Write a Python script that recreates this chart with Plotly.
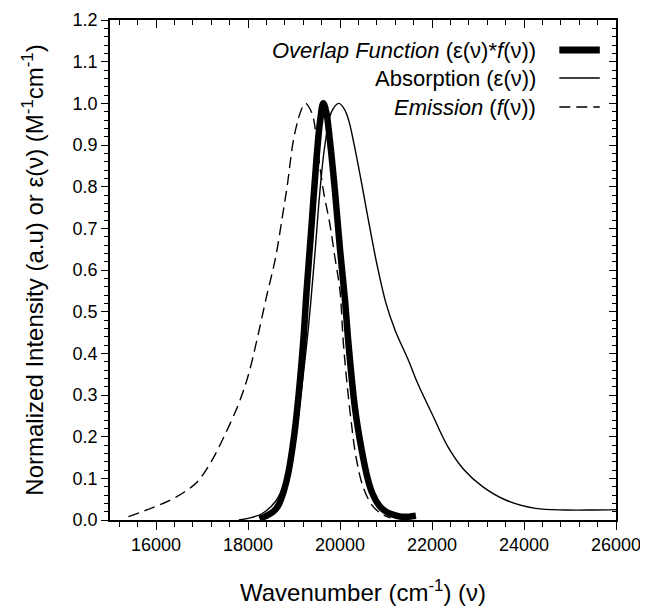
import plotly.graph_objects as go

# ---- data ----
emission_x = [15400, 15700, 16000, 16300, 16600, 16900, 17200, 17500, 17800, 18000,
              18200, 18400, 18600, 18750, 18850, 18985, 19100, 19180, 19250, 19330,
              19420, 19530, 19640, 19780, 19890, 20000, 20070, 20150, 20250, 20350,
              20500, 20700, 20900, 21100]
emission_y = [0.008, 0.02, 0.033, 0.047, 0.066, 0.092, 0.14, 0.205, 0.28, 0.345,
              0.435, 0.535, 0.63, 0.73, 0.80, 0.91, 0.965, 0.99, 1.0, 0.99,
              0.965, 0.875, 0.79, 0.71, 0.63, 0.55, 0.43, 0.33, 0.23, 0.15,
              0.08, 0.035, 0.015, 0.005]

absorption_x = [17800, 18000, 18300, 18600, 18800, 19000, 19150, 19311, 19455, 19564,
                19672, 19817, 19976, 20100, 20200, 20300, 20450, 20600, 20800, 21000,
                21200, 21480, 21700, 22000, 22350, 22700, 23100, 23600, 24250, 24900,
                25500, 26000]
absorption_y = [0.0, 0.004, 0.015, 0.045, 0.09, 0.17, 0.3, 0.46, 0.64, 0.79,
                0.9, 0.98, 1.0, 0.985, 0.955, 0.905, 0.82, 0.73, 0.615, 0.52,
                0.455, 0.385, 0.325, 0.255, 0.175, 0.12, 0.08, 0.048, 0.028, 0.024,
                0.024, 0.025]

overlap_x = [18250, 18400, 18550, 18660, 18780, 18880, 19000, 19100, 19202, 19274,
             19383, 19491, 19570, 19636, 19700, 19781, 19890, 20000, 20107, 20179,
             20324, 20468, 20600, 20700, 20850, 20974, 21150, 21335, 21500, 21650]
overlap_y = [0.003, 0.01, 0.02, 0.035, 0.07, 0.115, 0.2, 0.3, 0.43, 0.55,
             0.71, 0.87, 0.96, 1.0, 0.98, 0.91, 0.79, 0.65, 0.53, 0.43,
             0.27, 0.17, 0.1, 0.065, 0.035, 0.022, 0.013, 0.008, 0.008, 0.01]

legend_labels = ["<i>Overlap Function</i> (ε(ν)*<i>f</i>(ν))",
                 "Absorption (ε(ν))",
                 "<i>Emission</i> (<i>f</i>(ν))"]

x_range = [15000, 26000]
y_range = [0.0, 1.2]

FONT = "Liberation Sans, Arial, sans-serif"

fig = go.Figure()
fig.add_trace(go.Scatter(x=emission_x, y=emission_y, mode="lines", line_shape="spline",
                         line=dict(color="black", width=1.4, dash="11px,6px"),
                         showlegend=False, name="Emission"))
fig.add_trace(go.Scatter(x=absorption_x, y=absorption_y, mode="lines", line_shape="spline",
                         line=dict(color="black", width=1.4),
                         showlegend=False, name="Absorption"))
fig.add_trace(go.Scatter(x=overlap_x, y=overlap_y, mode="lines", line_shape="spline",
                         line=dict(color="black", width=6.5),
                         showlegend=False, name="Overlap"))
# invisible trace to host the mirrored top/right axes
fig.add_trace(go.Scatter(x=[None], y=[None], xaxis="x2", yaxis="y2",
                         showlegend=False, hoverinfo="skip"))

# manual legend (text left of the line sample, right aligned)
leg_y = [0.94, 0.884, 0.826]
leg_styles = [dict(width=7), dict(width=1.4), dict(width=1.4, dash="11px,6px")]
for lab, yy, st in zip(legend_labels, leg_y, leg_styles):
    fig.add_annotation(x=0.846, y=yy, xref="paper", yref="paper", text=lab,
                       showarrow=False, xanchor="right", yanchor="middle",
                       font=dict(family=FONT, size=22, color="black"))
    fig.add_shape(type="line", xref="paper", yref="paper", x0=0.888, x1=0.968,
                  y0=yy, y1=yy, line=dict(color="black", **st))

axis_font = dict(family=FONT, size=18, color="black")
# page body has a small default margin, so the figure is slightly smaller
fig.update_layout(
    width=640, height=600,
    margin=dict(l=102, r=32, t=12, b=88),
    paper_bgcolor="white", plot_bgcolor="white",
    font=dict(family=FONT, color="black"),
    xaxis=dict(range=x_range, showgrid=False, zeroline=False, automargin=False,
               showline=True, linecolor="black", linewidth=1.5,
               ticks="outside", tick0=16000, dtick=2000, ticklen=8, tickwidth=1.3,
               tickcolor="black", tickfont=axis_font, tickformat="d",
               minor=dict(ticks="outside", dtick=400, tick0=16000, ticklen=5,
                          tickwidth=1, tickcolor="black"),
               title=dict(text="Wavenumber (cm<sup>-1</sup>) (ν)", standoff=30,
                          font=dict(family=FONT, size=24, color="black"))),
    yaxis=dict(range=y_range, showgrid=False, zeroline=False, automargin=False,
               showline=True, linecolor="black", linewidth=1.5,
               ticks="outside", dtick=0.1, tick0=0, ticklen=7, tickwidth=1.3,
               tickcolor="black", tickfont=axis_font, tickformat=".1f",
               minor=dict(ticks="outside", dtick=0.02, ticklen=4, tickwidth=1,
                          tickcolor="black"),
               title=dict(text="Normalized Intensity (a.u) or ε(ν) (M<sup>-1</sup>cm<sup>-1</sup>)",
                          standoff=22,
                          font=dict(family=FONT, size=24, color="black"))),
    xaxis2=dict(range=x_range, overlaying="x", side="top", anchor="y2",
                showgrid=False, zeroline=False, showline=True, linecolor="black",
                linewidth=1.5, ticks="inside", tick0=16000, dtick=2000, ticklen=8,
                tickwidth=1.3, tickcolor="black", showticklabels=False,
                minor=dict(ticks="inside", dtick=400, tick0=16000, ticklen=5,
                           tickwidth=1, tickcolor="black")),
    yaxis2=dict(range=y_range, overlaying="y", side="right", anchor="x2",
                showgrid=False, zeroline=False, showline=True, linecolor="black",
                linewidth=1.5, ticks="inside", dtick=0.1, tick0=0, ticklen=7,
                tickwidth=1.3, tickcolor="black", showticklabels=False,
                minor=dict(ticks="inside", dtick=0.02, ticklen=4, tickwidth=1,
                           tickcolor="black")),
)

fig.write_html("out.html")
